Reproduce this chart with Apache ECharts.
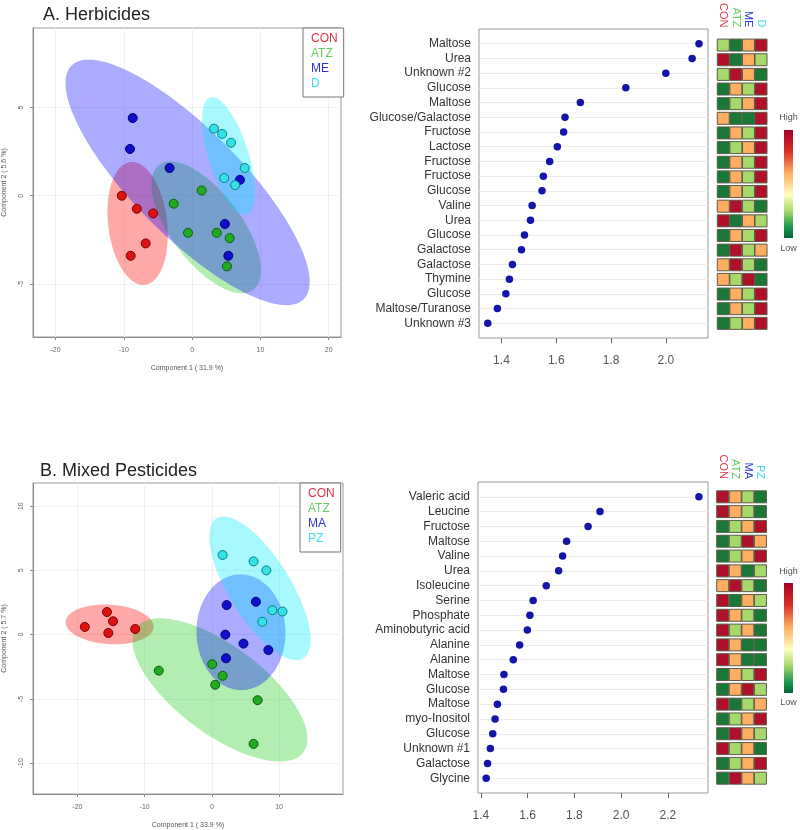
<!DOCTYPE html>
<html><head><meta charset="utf-8">
<script src="https://cdn.jsdelivr.net/npm/echarts@6/dist/echarts.min.js"></script>
<style>html,body{margin:0;padding:0;background:#fff}#c{width:800px;height:830px}</style>
</head><body><div id="c"></div>
<script>
// ---------- Panel A: Herbicides ----------
const groupsA = ['CON', 'ATZ', 'ME', 'D'];
const scoresA_CON = [[-10.3, 0.0], [-8.1, -0.74], [-5.7, -1.0], [-6.8, -2.7], [-9.0, -3.4]];
const scoresA_ATZ = [[1.4, 0.3], [-2.7, -0.45], [-0.6, -2.1], [3.6, -2.1], [5.5, -2.4], [5.1, -4.0]];
const scoresA_ME  = [[-8.7, 4.4], [-9.1, 2.65], [-3.3, 1.57], [7.0, 0.9], [4.8, -1.6], [5.3, -3.4]];
const scoresA_D   = [[3.2, 3.8], [4.4, 3.5], [5.7, 3.0], [7.7, 1.57], [4.7, 1.0], [6.3, 0.6]];
const axisNameA1 = 'Component 1 ( 31.9 %)';
const axisNameA2 = 'Component 2 ( 5.6 %)';
const scoreTicksXA = [-20, -10, 0, 10, 20];
const scoreTicksYA = [-5, 0, 5];

const metabA = ['Maltose', 'Urea', 'Unknown #2', 'Glucose', 'Maltose', 'Glucose/Galactose', 'Fructose',
  'Lactose', 'Fructose', 'Fructose', 'Glucose', 'Valine', 'Urea', 'Glucose', 'Galactose', 'Galactose',
  'Thymine', 'Glucose', 'Maltose/Turanose', 'Unknown #3'];
const vipA = [2.121, 2.096, 2.0, 1.854, 1.688, 1.632, 1.627, 1.604, 1.576, 1.553, 1.548, 1.512, 1.506,
  1.484, 1.473, 1.44, 1.429, 1.416, 1.385, 1.35];
const vipTicksA = [1.4, 1.6, 1.8, 2.0];
// relative level rank per group (1 = low ... 4 = high), columns CON, ATZ, ME, D
const levelA = [
  [2, 1, 3, 4], [4, 1, 3, 2], [2, 4, 3, 1], [1, 3, 2, 4], [1, 2, 3, 4],
  [3, 1, 1, 4], [1, 3, 2, 4], [1, 2, 3, 4], [1, 3, 2, 4], [1, 3, 2, 4],
  [1, 3, 2, 4], [3, 4, 2, 1], [4, 1, 3, 2], [1, 3, 2, 4], [1, 4, 2, 3],
  [3, 4, 2, 1], [3, 2, 4, 1], [1, 3, 2, 4], [1, 3, 2, 4], [1, 2, 3, 4]];

// ---------- Panel B: Mixed Pesticides ----------
const groupsB = ['CON', 'ATZ', 'MA', 'PZ'];
const scoresB_CON = [[-18.9, 0.6], [-15.6, 1.76], [-14.7, 1.04], [-15.4, 0.13], [-11.4, 0.44]];
const scoresB_ATZ = [[-7.9, -2.8], [0.05, -2.3], [1.6, -3.2], [0.5, -3.9], [6.8, -5.1], [6.2, -8.5]];
const scoresB_MA  = [[2.2, 2.3], [6.55, 2.56], [2.0, 0.0], [4.7, -0.7], [8.4, -1.2], [2.1, -1.84]];
const scoresB_PZ  = [[1.6, 6.2], [6.2, 5.7], [8.1, 5.0], [9.0, 1.9], [10.5, 1.8], [7.5, 1.0]];
const axisNameB1 = 'Component 1 ( 33.9 %)';
const axisNameB2 = 'Component 2 ( 5.7 %)';
const scoreTicksXB = [-20, -10, 0, 10];
const scoreTicksYB = [-10, -5, 0, 5, 10];

const metabB = ['Valeric acid', 'Leucine', 'Fructose', 'Maltose', 'Valine', 'Urea', 'Isoleucine', 'Serine',
  'Phosphate', 'Aminobutyric acid', 'Alanine', 'Alanine', 'Maltose', 'Glucose', 'Maltose', 'myo-Inositol',
  'Glucose', 'Unknown #1', 'Galactose', 'Glycine'];
const vipB = [2.333, 1.91, 1.859, 1.767, 1.75, 1.733, 1.68, 1.624, 1.61, 1.599, 1.566, 1.539, 1.499,
  1.497, 1.471, 1.461, 1.451, 1.441, 1.429, 1.423];
const vipTicksB = [1.4, 1.6, 1.8, 2.0, 2.2];
const levelB = [
  [4, 3, 2, 1], [4, 3, 2, 1], [1, 2, 3, 4], [1, 2, 4, 3], [1, 2, 3, 4],
  [4, 3, 1, 2], [3, 4, 2, 1], [4, 1, 3, 2], [4, 3, 2, 1], [4, 2, 3, 1],
  [4, 3, 1, 1], [4, 3, 1, 1], [1, 3, 2, 4], [1, 3, 4, 2], [4, 1, 2, 3],
  [1, 2, 3, 4], [1, 4, 3, 2], [4, 2, 3, 1], [1, 2, 3, 4], [1, 4, 3, 2]];

const legendLabels = ['High', 'Low'];

// ---------- styles ----------
const FONT = '"Liberation Sans", Arial, sans-serif';
const ptFill = ['#dd1111', '#22aa22', '#1010cc', '#33e3e8'];
const ptBorder = ['#7a0000', '#0c5c0c', '#000070', '#0d7d80'];
const ellFill = ['rgba(255,0,0,0.34)', 'rgba(0,200,0,0.30)', 'rgba(0,0,255,0.33)', 'rgba(0,235,255,0.34)'];
const textCol = ['#e03346', '#66cc66', '#2a35d8', '#38e0ee'];
const heatPal = ['#1a7837', '#a6d96a', '#fdae61', '#b0102a'];

// 95% confidence ellipse (mean, sample covariance, sqrt(qchisq(.95,2)))
function ellipse(pts) {
  const n = pts.length;
  const mx = pts.reduce((s, p) => s + p[0], 0) / n;
  const my = pts.reduce((s, p) => s + p[1], 0) / n;
  let sxx = 0, syy = 0, sxy = 0;
  pts.forEach(p => { sxx += (p[0] - mx) ** 2; syy += (p[1] - my) ** 2; sxy += (p[0] - mx) * (p[1] - my); });
  sxx /= (n - 1); syy /= (n - 1); sxy /= (n - 1);
  const k = Math.sqrt(-2 * Math.log(0.05));
  const a = Math.sqrt(sxx), b = sxy / a, c = Math.sqrt(Math.max(syy - b * b, 0));
  const out = [];
  for (let i = 0; i < 120; i++) {
    const t = i / 120 * Math.PI * 2;
    out.push([mx + k * a * Math.cos(t), my + k * (b * Math.cos(t) + c * Math.sin(t))]);
  }
  return { center: [mx, my], poly: out };
}

const series = [];
function scorePanel(gi, groups, sets) {
  sets.forEach((pts, i) => {
    const e = ellipse(pts);
    series.push({
      type: 'custom', xAxisIndex: gi, yAxisIndex: gi, z: 1, silent: true,
      data: [e.center],
      renderItem: (params, api) => ({
        type: 'polygon',
        shape: { points: e.poly.map(p => api.coord(p)) },
        style: { fill: ellFill[i] }
      })
    });
  });
  sets.forEach((pts, i) => {
    series.push({
      type: 'scatter', name: groups[i], xAxisIndex: gi, yAxisIndex: gi, z: 3,
      symbol: 'circle', symbolSize: 9, data: pts,
      itemStyle: { color: ptFill[i], borderColor: ptBorder[i], borderWidth: 1, opacity: 1 }
    });
  });
}
scorePanel(0, groupsA, [scoresA_CON, scoresA_ATZ, scoresA_ME, scoresA_D]);
scorePanel(2, groupsB, [scoresB_CON, scoresB_ATZ, scoresB_MA, scoresB_PZ]);

function vipPanel(gi, vip) {
  // guide lines for each row (below the dots)
  series.push({
    type: 'scatter', xAxisIndex: gi, yAxisIndex: gi, z: 1, symbolSize: 0, silent: true,
    data: [],
    markLine: {
      silent: true, z: 1, symbol: ['none', 'none'], label: { show: false }, animation: false,
      lineStyle: { color: '#ececec', width: 1, type: 'solid' },
      data: vip.map((v, i) => ({ yAxis: i }))
    }
  });
  series.push({
    type: 'scatter', xAxisIndex: gi, yAxisIndex: gi, z: 6, symbolSize: 7.5,
    data: vip.map((v, i) => [v, i]),
    itemStyle: { color: '#1414a8', opacity: 1 }
  });
}
vipPanel(1, vipA);
vipPanel(3, vipB);

function heatPanel(gi, level) {
  const data = [];
  level.forEach((row, r) => row.forEach((v, c) => data.push([c, r, v])));
  series.push({
    type: 'scatter', xAxisIndex: gi, yAxisIndex: gi, symbol: 'rect', symbolSize: [12, 12],
    data: data,
    itemStyle: { color: p => heatPal[p.value[2] - 1], borderColor: '#5a5a4a', borderWidth: 1, opacity: 1 }
  });
}
heatPanel(4, levelA);
heatPanel(5, levelB);

const grids = [
  { left: 33, top: 28, width: 308, height: 309 },
  { left: 479, top: 29, width: 229, height: 309 },
  { left: 33, top: 483, width: 310, height: 311 },
  { left: 478, top: 482, width: 230, height: 311 },
  { left: 717, top: 29, width: 50.3, height: 309 },
  { left: 716.4, top: 482, width: 50.3, height: 311 }
].map((g, i) => Object.assign({
  show: i < 4, borderColor: i < 4 ? '#9a9a9a' : 'transparent', borderWidth: 1, backgroundColor: 'transparent', containLabel: false
}, g));

function scoreX(gi, min, max, ticks, name) {
  return {
    type: 'value', gridIndex: gi, min, max, name, nameLocation: 'middle', nameGap: 28,
    nameTextStyle: { fontSize: 7, color: '#555', fontFamily: FONT },
    axisLine: { show: true, onZero: false, lineStyle: { color: '#8a8a8a' } },
    axisTick: { show: true, length: 3, customValues: ticks, lineStyle: { color: '#8a8a8a' } },
    axisLabel: { fontSize: 7, color: '#666', margin: 10, customValues: ticks, fontFamily: FONT },
    splitLine: { show: true, lineStyle: { color: '#f1f1f1' } }
  };
}
function scoreY(gi, min, max, ticks, name) {
  return {
    type: 'value', gridIndex: gi, min, max, name, nameLocation: 'middle', nameGap: 25,
    nameTextStyle: { fontSize: 7, color: '#555', fontFamily: FONT },
    axisLine: { show: true, onZero: false, lineStyle: { color: '#8a8a8a' } },
    axisTick: { show: true, length: 3, customValues: ticks, lineStyle: { color: '#8a8a8a' } },
    axisLabel: { fontSize: 7, color: '#666', margin: 8, rotate: 90, customValues: ticks, fontFamily: FONT },
    splitLine: { show: true, lineStyle: { color: '#f1f1f1' } }
  };
}
function vipX(gi, min, max, ticks) {
  return {
    type: 'value', gridIndex: gi, min, max,
    axisLine: { show: false, onZero: false },
    axisTick: { show: true, length: 5, customValues: ticks, lineStyle: { color: '#666' } },
    axisLabel: { fontSize: 12, color: '#555', margin: 17, customValues: ticks, fontFamily: FONT,
      formatter: v => v.toFixed(1) },
    splitLine: { show: false }
  };
}
function rowsY(gi, names, showLabels) {
  return {
    type: 'value', gridIndex: gi, min: -1, max: 20, inverse: true,
    axisLine: { show: false, onZero: false }, axisTick: { show: false }, splitLine: { show: false },
    axisLabel: {
      show: showLabels, fontSize: 12, color: '#333', margin: 8, fontFamily: FONT,
      customValues: names.map((n, i) => i), formatter: v => names[v]
    }
  };
}
function heatX(gi, groups) {
  return {
    type: 'category', gridIndex: gi, data: groups, position: 'top', boundaryGap: true,
    axisLine: { show: false, onZero: false }, axisTick: { show: false }, splitLine: { show: false },
    axisLabel: { rotate: 90, fontSize: 11, margin: 3, fontFamily: FONT, interval: 0,
      color: (v, i) => textCol[i] }
  };
}

const graphics = [];
function colorBar(x, y, h, hiY, loY) {
  graphics.push({
    type: 'rect', left: x, top: y, shape: { width: 9, height: h },
    style: { fill: new echarts.graphic.LinearGradient(0, 0, 0, 1, [
      { offset: 0, color: '#a50026' }, { offset: 0.2, color: '#d73027' }, { offset: 0.4, color: '#fdae61' },
      { offset: 0.6, color: '#ffffbf' }, { offset: 0.75, color: '#a6d96a' }, { offset: 0.9, color: '#1a9850' },
      { offset: 1, color: '#006837' }]) }
  });
  graphics.push({ type: 'text', x: x + 4.5, y: hiY, style: { text: legendLabels[0], fontSize: 9, fill: '#555',
    align: 'center', verticalAlign: 'middle', fontFamily: FONT } });
  graphics.push({ type: 'text', x: x + 4.5, y: loY, style: { text: legendLabels[1], fontSize: 9, fill: '#555',
    align: 'center', verticalAlign: 'middle', fontFamily: FONT } });
}
colorBar(784, 130, 108, 118, 249);
colorBar(784, 583, 110, 572, 703);

function legendFor(groups, left, top) {
  return {
    orient: 'vertical', left, top, icon: 'rect', itemWidth: 0, itemHeight: 0, itemGap: 3,
    padding: [5, 6, 7, 2], borderColor: '#777', borderWidth: 1, backgroundColor: '#fff',
    selectedMode: false,
    textStyle: { fontSize: 12, lineHeight: 12, fontFamily: FONT },
    data: groups.map((g, i) => ({ name: g, textStyle: { color: textCol[i] } }))
  };
}

const chart = echarts.init(document.getElementById('c'), null, { renderer: 'canvas' });
chart.setOption({
  backgroundColor: '#fff',
  animation: false,
  textStyle: { fontFamily: FONT },
  title: [
    { text: 'A. Herbicides', left: 43, top: 5, padding: 0,
      textStyle: { fontSize: 18, fontWeight: 'normal', color: '#222', lineHeight: 20, fontFamily: FONT } },
    { text: 'B. Mixed Pesticides', left: 40, top: 461, padding: 0,
      textStyle: { fontSize: 18, fontWeight: 'normal', color: '#222', lineHeight: 20, fontFamily: FONT } }
  ],
  legend: [legendFor(groupsA, 303, 28), legendFor(groupsB, 300, 483)],
  grid: grids,
  xAxis: [
    scoreX(0, -23.3, 21.8, scoreTicksXA, axisNameA1),
    vipX(1, 1.318, 2.154, vipTicksA),
    scoreX(2, -26.6, 19.5, scoreTicksXB, axisNameB1),
    vipX(3, 1.388, 2.372, vipTicksB),
    heatX(4, groupsA),
    heatX(5, groupsB)
  ],
  yAxis: [
    scoreY(0, -8.0, 9.5, scoreTicksYA, axisNameA2),
    rowsY(1, metabA, true),
    scoreY(2, -12.4, 11.8, scoreTicksYB, axisNameB2),
    rowsY(3, metabB, true),
    rowsY(4, metabA, false),
    rowsY(5, metabB, false)
  ],
  graphic: graphics,
  series: series
});
</script>
</body></html>
